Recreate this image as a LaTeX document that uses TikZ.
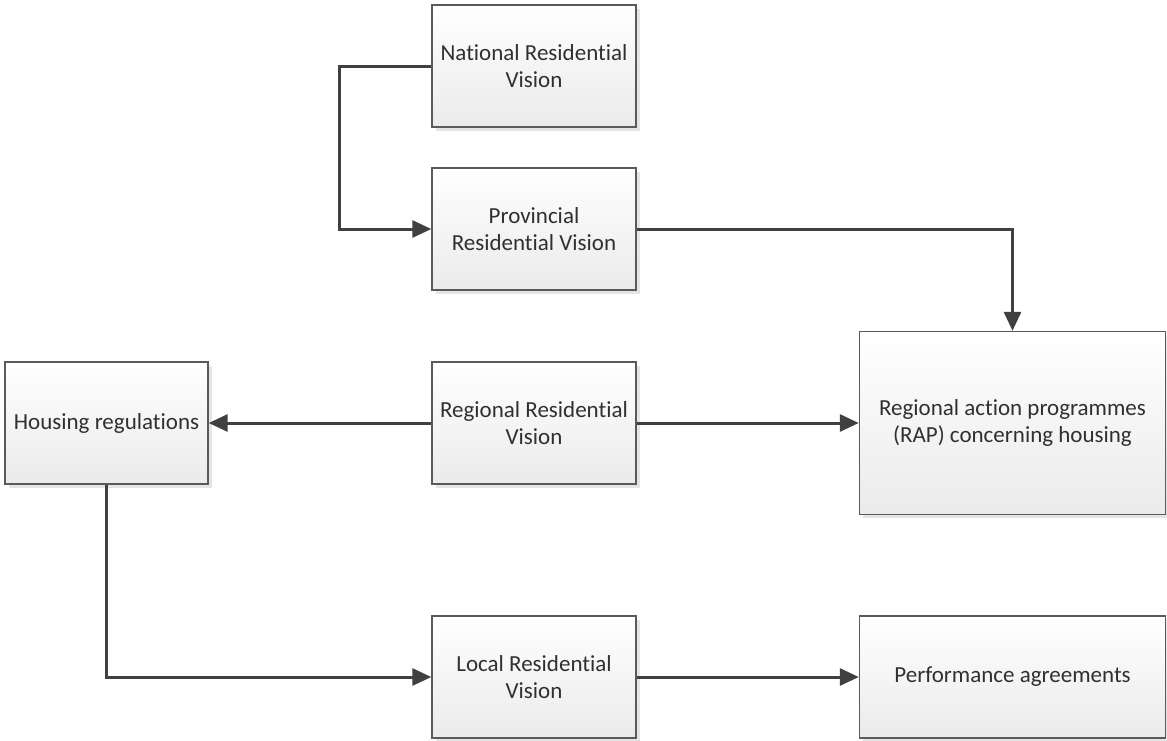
\documentclass[tikz,border=0pt]{standalone}
\usepackage{fontspec}
\setmainfont{Carlito}[Ligatures={NoCommon}]
\usetikzlibrary{arrows.meta,shadows}
\definecolor{linec}{HTML}{404040}
\definecolor{boxline}{HTML}{5A5A5A}
\definecolor{txt}{HTML}{303030}
\tikzset{
  box/.style={draw=boxline, line width=1.4pt, top color=white, bottom color=black!8,
    general shadow={fill=black!10, shadow xshift=3.5pt, shadow yshift=-3.5pt},
    align=center, text=txt, inner sep=0pt,
    font=\fontsize{23}{27.5}\selectfont},
  conn/.style={draw=linec, line width=3pt, -{Triangle[length=19pt,width=17pt]}},
}
\begin{document}
\begin{tikzpicture}[x=1pt,y=-1pt]
\useasboundingbox (0,0) rectangle (1167,740);
\node[box, minimum width=204pt, minimum height=122pt] (nat) at (534,66) {National Residential\\Vision};
\node[box, minimum width=204pt, minimum height=122pt] (prov) at (534,229) {Provincial\\Residential Vision};
\node[box, minimum width=204pt, minimum height=122pt] (reg) at (534,423) {Regional Residential\\Vision};
\node[box, minimum width=204pt, minimum height=122pt] (loc) at (534,677) {Local Residential\\Vision};
\node[box, minimum width=203pt, minimum height=122pt] (hr) at (106.5,423) {Housing regulations};
\node[box, minimum width=306pt, minimum height=183pt] (rap) at (1012.5,423) {Regional action programmes\\(RAP) concerning housing};
\node[box, minimum width=306pt, minimum height=122pt] (perf) at (1012.5,677) {Performance agreements};
\draw[conn] (nat.west) -- ++(-92,0) |- (prov.west);
\draw[conn] (prov.east) -| (rap.north);
\draw[conn] (reg.west) -- (hr.east);
\draw[conn] (reg.east) -- (rap.west);
\draw[conn] (hr.south) |- (loc.west);
\draw[conn] (loc.east) -- (perf.west);
\end{tikzpicture}
\end{document}
